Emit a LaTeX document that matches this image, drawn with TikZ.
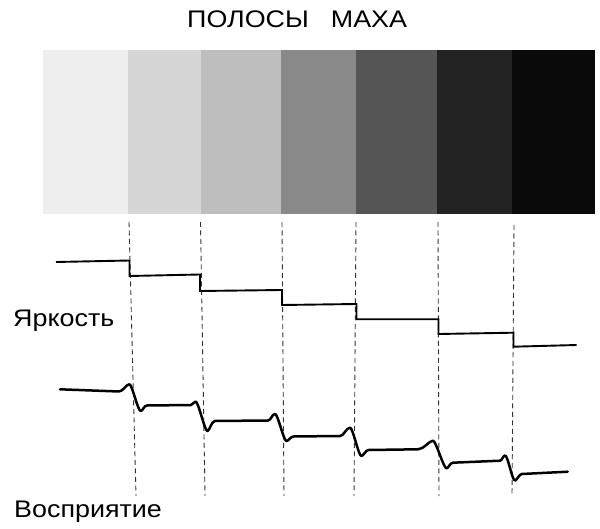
\documentclass[tikz,border=0pt]{standalone}
\usepackage{fontspec}
\setmainfont[FakeStretch=1.12]{Liberation Sans}
\begin{document}
\begin{tikzpicture}[x=1pt,y=-1pt,
  lbl/.style={anchor=base west,inner sep=0pt,font=\fontsize{24}{28}\selectfont},
  guide/.style={draw=black!80,line width=0.9pt,dash pattern=on 5pt off 3.5pt},
  stepline/.style={draw=black,line width=1.9pt,line join=miter},
  percline/.style={draw=black,line width=2.5pt,line join=round,line cap=round}]
\useasboundingbox (0,0) rectangle (600,529);
% bands
\definecolor{bA}{HTML}{EEEEEE}
\definecolor{bB}{HTML}{D6D6D6}
\definecolor{bC}{HTML}{BEBEBE}
\definecolor{bD}{HTML}{898989}
\definecolor{bE}{HTML}{555555}
\definecolor{bF}{HTML}{222222}
\definecolor{bG}{HTML}{0A0A0A}
\fill[bA] (43,50) rectangle (127.5,214);
\fill[bB] (127.5,50) rectangle (201,214);
\fill[bC] (201,50) rectangle (281,214);
\fill[bD] (281,50) rectangle (356,214);
\fill[bE] (356,50) rectangle (437,214);
\fill[bF] (437,50) rectangle (511.5,214);
\fill[bG] (511.5,50) rectangle (595,214);
% title and labels
\node[lbl] (title) at (187,28) {ПОЛОСЫ\hspace{22pt}МАХА};
\node[lbl] (bright) at (13,327) {Яркость};
\node[lbl] (perc) at (14,517) {Восприятие};
% dashed guides
\coordinate (t1) at (129,222); \coordinate (e1) at (136,496);
\coordinate (t2) at (200.5,222); \coordinate (e2) at (205,496);
\coordinate (t3) at (282,222); \coordinate (e3) at (284,496);
\coordinate (t4) at (356,222); \coordinate (e4) at (354,496);
\coordinate (t5) at (438,222); \coordinate (e5) at (439,496);
\coordinate (t6) at (514,225); \coordinate (e6) at (512,496);
\foreach \i in {1,...,6} \draw[guide] (t\i) -- (e\i);
% luminance staircase
\draw[stepline] (56,262) -- (129.5,260.5) -- (129.5,276) -- (200,274.5) -- (200,291)
  -- (282,290) -- (282,305) -- (356.5,304) -- (356.5,319.3) -- (438.5,319.3)
  -- (438.5,334) -- (513.5,332.7) -- (513.5,346.7) -- (576.7,345);
% perceived brightness
\draw[percline] (60,389.3) -- (119,391.5)
  .. controls (123,391.5) and (126,384.3) .. (129.3,384.3)
  .. controls (132.3,384.3) and (137.7,411) .. (140.7,411)
  .. controls (142.7,411) and (144,405.5) .. (147,405.5)
  -- (191,405)
  .. controls (193,405) and (193.5,401.5) .. (195.5,401.5)
  .. controls (198.5,401.5) and (204.5,431) .. (207.5,431)
  .. controls (209.5,431) and (211.5,421) .. (215,421)
  -- (268,420.5)
  .. controls (271,420.5) and (272,414) .. (275,414)
  .. controls (278,414) and (283.5,441) .. (286.5,441)
  .. controls (288.5,441) and (290.6,436.5) .. (293.6,436.5)
  -- (340,436)
  .. controls (344,436) and (346,427.7) .. (350,427.7)
  .. controls (353,427.7) and (358.4,456) .. (361.4,456)
  .. controls (363.4,456) and (365.6,450) .. (368.6,450)
  -- (418,449.3)
  .. controls (424,449.3) and (429,440.7) .. (433,440.7)
  .. controls (436,440.7) and (443.5,468.3) .. (446.5,468.3)
  .. controls (448.5,468.3) and (450,462.7) .. (453,462.7)
  -- (500,460.7)
  .. controls (502,460.7) and (503,455.5) .. (505,455.5)
  .. controls (508,455.5) and (512,480.5) .. (515,480.5)
  .. controls (517,480.5) and (519,474) .. (522,474)
  -- (567.7,471.7);
\end{tikzpicture}
\end{document}
